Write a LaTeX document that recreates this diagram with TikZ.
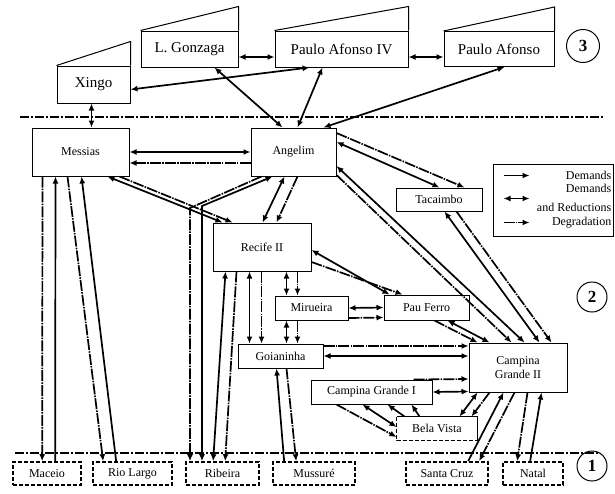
\documentclass[tikz,border=0pt]{standalone}
\usepackage{fontspec}
\setmainfont{Liberation Serif}
\usepackage{tikz}
\usetikzlibrary{arrows.meta}

\begin{document}
\begin{tikzpicture}[x=1pt, y=-1pt, >={Latex[length=7pt,width=6pt]}]
	\tikzstyle{plant}=[draw=black, line width=1pt, inner sep=0pt, font=\fontsize{15}{17}\selectfont]
	\tikzstyle{station}=[draw=black, line width=1pt, inner sep=0pt, font=\fontsize{12}{14}\selectfont]
	\tikzstyle{loadbox}=[draw=black, line width=1.7pt, dash pattern=on 4pt off 2pt, inner sep=0pt, minimum height=23pt, font=\fontsize{12}{14}\selectfont]
	\tikzstyle{levelnum}=[circle, draw=black, line width=1pt, inner sep=0pt, font=\bfseries\fontsize{17}{19}\selectfont]
	\tikzstyle{level line}=[line width=1.8pt, dash pattern=on 9pt off 2pt on 2pt off 2pt]
	\tikzstyle{dem}=[->, line width=1.7pt]
	\tikzstyle{demred}=[<->, line width=1.7pt]
	\tikzstyle{degr}=[->, line width=1.7pt, dash pattern=on 11pt off 1.2pt on 1.5pt off 1.2pt]
	\tikzstyle{annot}=[inner sep=0pt, font=\fontsize{12}{14}\selectfont]

	\useasboundingbox (0,0) rectangle (615,493);

	% Draw the power plants of level 3, a box with a slanted roof
	\foreach \name/\x/\y/\w/\h/\txt in {xingo/93.5/84.5/73/37/Xingo, gonzaga/189.5/49/97/36/L. Gonzaga, pa4/341.5/49/133/36/Paulo Afonso IV, pa/499/49/110/35/Paulo Afonso} {
		\node[plant, minimum width=\w pt, minimum height=\h pt] (\name) at (\x, \y) {\txt};
		\draw[line width=1pt] (\name.north west) -- ([yshift=24pt]\name.north east) -- (\name.north east);
	}

	% Draw the substations of level 2
	\node[station, minimum width=97pt, minimum height=48pt] (messias) at (80.5, 152) {Messias};
	\node[station, minimum width=85pt, minimum height=48pt] (angelim) at (293.5, 152) {Angelim};
	\node[station, minimum width=86pt, minimum height=23pt] (tacaimbo) at (439, 199.5) {Tacaimbo};
	\node[station, minimum width=98pt, minimum height=48pt] (recife) at (262, 247) {Recife II};
	\node[station, minimum width=73pt, minimum height=24pt] (mirueira) at (311.5, 308) {Mirueira};
	\node[station, minimum width=85pt, minimum height=25pt] (pauferro) at (426.5, 307.5) {Pau Ferro};
	\node[station, minimum width=85pt, minimum height=24pt] (goianinha) at (280.5, 356) {Goianinha};
	\node[station, minimum width=98pt, minimum height=49pt, align=center] (cgII) at (518, 367.5) {Campina\\Grande II};
	\node[station, minimum width=121pt, minimum height=24pt] (cgI) at (371.5, 392) {Campina Grande I};
	\node[station, draw=none, minimum width=80pt, minimum height=23pt] (belavista) at (437, 428.5) {Bela Vista};
	\draw[line width=1pt] (belavista.south east) -- (belavista.north east) -- (belavista.north west);
	\draw[line width=1pt, dash pattern=on 4pt off 2pt] (belavista.north west) -- (belavista.south west) -- (belavista.south east);

	% Draw the loads of level 1
	\foreach \name/\x/\w/\txt in {maceio/47/68/Maceio, riolargo/132.5/79/Rio Largo, ribeira/222.5/73/Ribeira, mussure/314/82/Mussuré, santacruz/447/82/Santa Cruz, natal/533/60/Natal} {
		\node[loadbox, minimum width=\w pt] (\name) at (\x, 473.5) {\txt};
	}

	% Level borders and numbers
	\draw[level line] (20,117) -- (603,117);
	\draw[level line] (15,453) -- (600,453);
	\node[levelnum, minimum size=33pt] (lv3) at (583,46) {3};
	\node[levelnum, minimum size=30pt] (lv2) at (592,297) {2};
	\node[levelnum, minimum size=30pt] (lv1) at (592,466) {1};

	% Links of level 3
	\draw[demred] ([xshift=35pt]xingo.south west) -- ([xshift=60pt]messias.north west);
	\draw[demred] ([yshift=-8pt]gonzaga.east) -- ([yshift=-8pt]pa4.west);
	\draw[demred] ([yshift=-8pt]pa4.east) -- ([yshift=-8pt]pa.west);
	\draw[demred] ([yshift=-5pt]xingo.east) -- ([xshift=35pt]pa4.south west);
	\draw[demred] ([xshift=32pt]angelim.north west) -- ([xshift=74pt]gonzaga.south west);
	\draw[demred] ([xshift=47pt]angelim.north west) -- ([xshift=48pt]pa4.south west);
	\draw[demred] ([xshift=73pt]angelim.north west) -- ([xshift=61pt]pa.south west);

	% Links out of Messias and Angelim
	\draw[demred] (messias.east) -- (angelim.west);
	\draw[degr] ([yshift=-11pt]angelim.west) -- ([yshift=-11pt]messias.east);
	\draw[demred] ([xshift=-22pt]messias.south east) -- ([xshift=10pt]recife.north west);
	\draw[degr] ([xshift=-10pt]messias.south east) -- ([xshift=20pt]recife.north west);
	\coordinate (bendS) at (202,206);
	\coordinate (bendD) at (190,208);
	\draw[demred] ([xshift=22pt]angelim.south west) -- (bendS) -- (bendS |- ribeira.north);
	\draw[degr] ([xshift=11pt]angelim.south west) -- (bendD) -- (bendD |- ribeira.north);
	\draw[demred] ([xshift=34pt]angelim.south west) -- ([xshift=50pt]recife.north west);
	\draw[degr] ([xshift=47pt]angelim.south west) -- ([xshift=64pt]recife.north west);
	\draw[demred] ([yshift=10pt]angelim.east) -- ([xshift=44pt]tacaimbo.north west);
	\draw[degr] ([yshift=19pt]angelim.east) -- ([xshift=69pt]tacaimbo.north west);
	\draw[demred] ([yshift=-14pt]angelim.east) -- ([xshift=56pt]cgII.north west);
	\draw[degr] ([yshift=-23pt]angelim.east) -- ([xshift=43pt]cgII.north west);
	\draw[demred] ([xshift=49pt]tacaimbo.south west) -- ([xshift=71pt]cgII.north west);
	\draw[degr] ([xshift=61pt]tacaimbo.south west) -- ([xshift=83pt]cgII.north west);

	% Links out of Recife II
	\draw[demred] ([yshift=-3pt]recife.east) -- ([xshift=6pt]pauferro.north west);
	\draw[degr] ([yshift=-15pt]recife.east) -- ([xshift=19pt]pauferro.north west);
	\draw[demred] ([xshift=74pt]recife.south west) -- ([xshift=12pt]mirueira.north west);
	\draw[degr] ([xshift=85pt]recife.south west) -- ([xshift=23pt]mirueira.north west);
	\draw[demred] ([xshift=37pt]recife.south west) -- ([xshift=12pt]goianinha.north west);
	\draw[degr] ([xshift=49pt]recife.south west) -- ([xshift=24pt]goianinha.north west);
	\draw[demred] ([xshift=13pt]recife.south west) -- ([xshift=28pt]ribeira.north west);
	\draw[degr] ([xshift=24pt]recife.south west) -- ([xshift=40pt]ribeira.north west);

	% Links in the middle
	\draw[demred] ([xshift=12pt]mirueira.south west) -- ([xshift=49pt]goianinha.north west);
	\draw[degr] ([xshift=23pt]mirueira.south west) -- ([xshift=60pt]goianinha.north west);
	\draw[demred] (mirueira.east) -- (pauferro.west);
	\draw[degr] ([yshift=-10pt]mirueira.east) -- ([yshift=-10pt]pauferro.west);
	\draw[demred] ([xshift=64pt]pauferro.south west) -- ([xshift=21pt]cgII.north west);
	\draw[degr] ([xshift=51pt]pauferro.south west) -- ([xshift=9pt]cgII.north west);
	\draw[demred] (goianinha.east) -- ([yshift=11.5pt]cgII.west);
	\draw[degr] ([yshift=10pt]goianinha.east) -- ([yshift=21.5pt]cgII.west);
	\draw[demred] (cgI.east) -- ([yshift=-24pt]cgII.west);
	\draw[degr] ([xshift=-19pt]cgI.north east) -- ([yshift=-11.5pt]cgII.west);
	\draw[degr] ([xshift=26pt]cgI.south west) -- ([yshift=-8.5pt]belavista.west);
	\draw[demred] ([xshift=52pt]cgI.south west) -- ([yshift=1.5pt]belavista.west);
	\draw[dem] ([xshift=8pt]belavista.north west) -- ([xshift=77pt]cgI.south west);
	\draw[dem] ([xshift=23pt]belavista.north west) -- ([xshift=101pt]cgI.south west);
	\draw[demred] ([xshift=9pt]cgII.south west) -- ([xshift=63pt]belavista.north west);
	\draw[degr] ([xshift=21pt]cgII.south west) -- ([xshift=75pt]belavista.north west);

	% Links down to the loads
	\draw[degr] ([xshift=11pt]messias.south west) -- ([xshift=30pt]maceio.north west);
	\draw[dem] ([xshift=43pt]maceio.north west) -- ([xshift=24pt]messias.south west);
	\draw[degr] ([xshift=36pt]messias.south west) -- ([xshift=11pt]riolargo.north west);
	\draw[dem] ([xshift=24pt]riolargo.north west) -- ([xshift=50pt]messias.south west);
	\draw[dem] ([xshift=12pt]mussure.north west) -- ([xshift=39pt]goianinha.south west);
	\draw[degr] ([xshift=49pt]goianinha.south west) -- ([xshift=24pt]mussure.north west);
	\draw[dem] ([xshift=63pt]santacruz.north west) -- ([xshift=35pt]cgII.south west);
	\draw[degr] ([xshift=46pt]cgII.south west) -- ([xshift=74pt]santacruz.north west);
	\draw[degr] ([xshift=59pt]cgII.south west) -- ([xshift=15pt]natal.north west);
	\draw[dem] ([xshift=28pt]natal.north west) -- ([xshift=73pt]cgII.south west);

	% Legend
	\node[draw=black, line width=1pt, minimum width=120pt, minimum height=72pt, inner sep=0pt] (legend) at (553,200) {};
	\draw[dem] ([xshift=11pt,yshift=-12pt]legend.north west) -- ++(26,0);
	\draw[demred] ([xshift=11pt,yshift=-35pt]legend.north west) -- ++(26,0);
	\draw[degr] ([xshift=11pt,yshift=-59pt]legend.north west) -- ++(26,0);
	\node[annot, anchor=east] (lg1) at ([xshift=-2pt,yshift=-12pt]legend.north east) {Demands};
	\node[annot, anchor=east] (lg2) at ([xshift=-2pt,yshift=-25pt]legend.north east) {Demands};
	\node[annot, anchor=east] (lg3) at ([xshift=-2pt,yshift=-44pt]legend.north east) {and Reductions};
	\node[annot, anchor=east] (lg4) at ([xshift=-2pt,yshift=-59pt]legend.north east) {Degradation};
\end{tikzpicture}
\end{document}
